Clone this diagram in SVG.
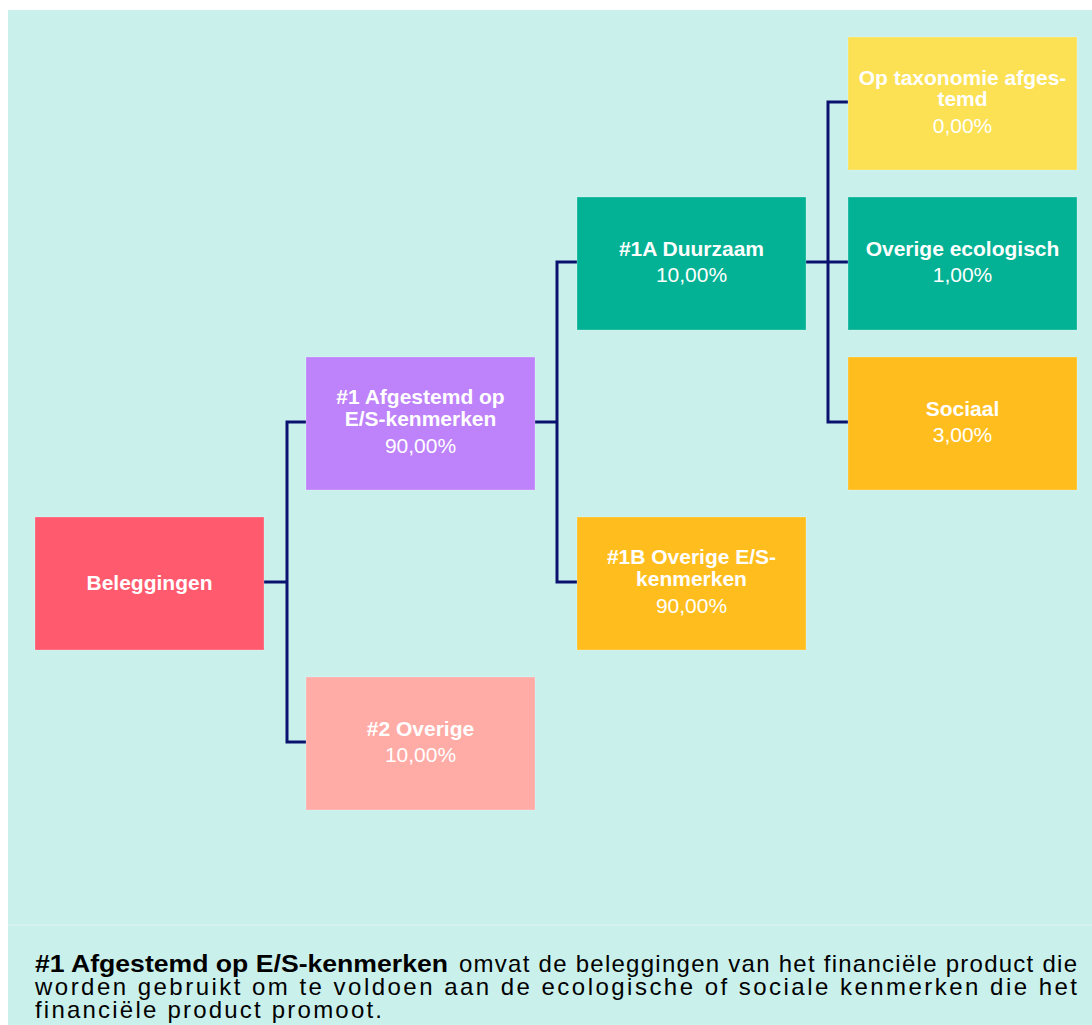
<svg xmlns="http://www.w3.org/2000/svg" width="1092" height="1025" viewBox="0 0 1092 1025">
<style>
.bg{fill:#CAF0EC}
.box{stroke:#FFFFFF;stroke-opacity:0.25;stroke-width:1}
.t{font-family:"Liberation Sans",Arial,sans-serif;font-size:21px;fill:#FFFFFF;text-anchor:middle}
.b{font-weight:bold}
.conn{fill:none;stroke:#0A1270;stroke-width:3}
.note{font-family:"Liberation Sans",Arial,sans-serif;font-size:24px;fill:#000000}
</style>
<rect x="0" y="0" width="1092" height="1025" fill="#FFFFFF"/>
<rect class="bg" x="8" y="10" width="1084" height="1015"/>
<line x1="8" y1="925" x2="1092" y2="925" stroke="#DDF6F3" stroke-width="1"/>

<g id="connectors">
  <path class="conn" d="M264 582 H287 M306 422 H287 V742 H306"/>
  <path class="conn" d="M535 422 H557 M577 262 H557 V582 H577"/>
  <path class="conn" d="M806 262 H848 M848 102 H828 V422 H848"/>
</g>

<g id="beleggingen">
  <rect class="box" x="35" y="517" width="229" height="133" fill="#FF5A6E"/>
  <text class="t b" x="149.5" y="590">Beleggingen</text>
</g>
<g id="afgestemd">
  <rect class="box" x="306" y="357" width="229" height="133" fill="#BE82FA"/>
  <text class="t b" x="420.5" y="404">#1 Afgestemd op</text>
  <text class="t b" x="420.5" y="426">E/S-kenmerken</text>
  <text class="t" x="420.5" y="453">90,00%</text>
</g>
<g id="overige">
  <rect class="box" x="306" y="677" width="229" height="133" fill="#FFABA6"/>
  <text class="t b" x="420.5" y="736">#2 Overige</text>
  <text class="t" x="420.5" y="762">10,00%</text>
</g>
<g id="duurzaam">
  <rect class="box" x="577" y="197" width="229" height="133" fill="#03B294"/>
  <text class="t b" x="691.5" y="256">#1A Duurzaam</text>
  <text class="t" x="691.5" y="282">10,00%</text>
</g>
<g id="overige-es">
  <rect class="box" x="577" y="517" width="229" height="133" fill="#FFBE1E"/>
  <text class="t b" x="691.5" y="564">#1B Overige E/S-</text>
  <text class="t b" x="691.5" y="586">kenmerken</text>
  <text class="t" x="691.5" y="613">90,00%</text>
</g>
<g id="taxonomie">
  <rect class="box" x="848" y="37" width="229" height="133" fill="#FBE153"/>
  <text class="t b" x="962.5" y="85">Op taxonomie afges-</text>
  <text class="t b" x="962.5" y="106">temd</text>
  <text class="t" x="962.5" y="133">0,00%</text>
</g>
<g id="ecologisch">
  <rect class="box" x="848" y="197" width="229" height="133" fill="#03B294"/>
  <text class="t b" x="962.5" y="256">Overige ecologisch</text>
  <text class="t" x="962.5" y="282">1,00%</text>
</g>
<g id="sociaal">
  <rect class="box" x="848" y="357" width="229" height="133" fill="#FFBE1E"/>
  <text class="t b" x="962.5" y="416">Sociaal</text>
  <text class="t" x="962.5" y="442">3,00%</text>
</g>

<g id="note">
  <text class="note b" x="35" y="972" textLength="413" lengthAdjust="spacingAndGlyphs">#1 Afgestemd op E/S-kenmerken</text>
  <text class="note" x="459" y="972" textLength="618" lengthAdjust="spacing">omvat de beleggingen van het financiële product die</text>
  <text class="note" x="35" y="995" textLength="1042" lengthAdjust="spacing">worden gebruikt om te voldoen aan de ecologische of sociale kenmerken die het</text>
  <text class="note" x="35" y="1018" textLength="347" lengthAdjust="spacing">financiële product promoot.</text>
</g>
</svg>
